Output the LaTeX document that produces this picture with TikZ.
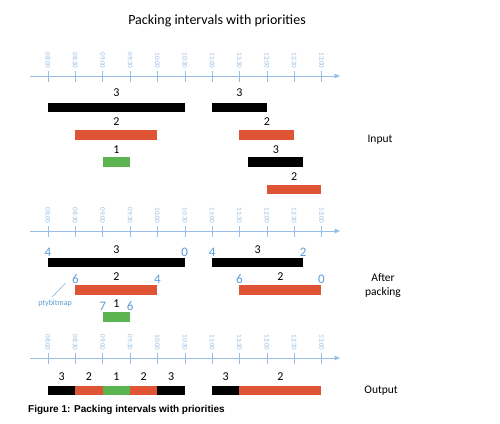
\documentclass[tikz,border=0pt]{standalone}
\usepackage{fontspec}
\setmainfont{Carlito}
\newfontfamily\capfont{Liberation Sans}
\usetikzlibrary{arrows.meta, positioning}
\definecolor{axisblue}{RGB}{150,190,230}
\definecolor{bitblue}{RGB}{91,155,213}
\definecolor{barred}{RGB}{222,84,52}
\definecolor{bargreen}{RGB}{92,180,80}

\begin{document}
\begin{tikzpicture}[x=27.35pt, y=-1pt,
    prio/.style={font=\fontsize{12}{13}\selectfont},
    bit/.style={font=\fontsize{13}{14}\selectfont, text=bitblue},
    ticklabel/.style={font=\fontsize{7}{8}\selectfont, text=axisblue, rotate=-90, inner sep=0pt},
    side/.style={font=\fontsize{11.5}{14}\selectfont, align=center},
    bar3/.style={fill=black},
    bar2/.style={fill=barred},
    bar1/.style={fill=bargreen}]
    \useasboundingbox (-1.755,0) rectangle (16.527,424);
    \node (title) at (6.18,21) {\fontsize{14}{16}\selectfont Packing intervals with priorities};
    % time axes
    \foreach \ay/\nm in {76/in, 231/pk, 358/out} {
        \draw[axisblue, thick, -{Latex[length=6pt, width=5pt]}] (-0.66,\ay) -- (10.7,\ay);
        \foreach \i/\t in {0/08:00,1/08:30,2/09:00,3/09:30,4/10:00,5/10:30,6/11:00,7/11:30,8/12:00,9/12:30,10/13:00} {
            \draw[axisblue] (\i,\ay-5) -- (\i,\ay+6);
            \node[ticklabel] (t\nm\i) at (\i,\ay-15.5) {\t};
        }
    }
    % Input
    \fill[bar3] (0,103) rectangle (5,112);
    \fill[bar3] (6,103) rectangle (8,112);
    \fill[bar2] (1,130) rectangle (4,140);
    \fill[bar2] (7,130) rectangle (9,140);
    \fill[bar1] (2,157) rectangle (3,167);
    \fill[bar3] (7.33,157) rectangle (9.33,167);
    \fill[bar2] (8,185) rectangle (10,194);
    \node[prio] (ia) at (2.5,93) {3};
    \node[prio] (ib) at (7,93) {3};
    \node[prio] (ic) at (2.5,122) {2};
    \node[prio] (id) at (8,122) {2};
    \node[prio] (ie) at (2.5,150) {1};
    \node[prio] (if) at (8.33,150) {3};
    \node[prio] (ig) at (9,177) {2};
    \node[side] (input) at (12.14,140) {Input};
    % After packing
    \fill[bar3] (0,258) rectangle (5,267);
    \fill[bar3] (6,258) rectangle (9.33,267);
    \fill[bar2] (1,285) rectangle (4,295);
    \fill[bar2] (7,285) rectangle (10,295);
    \fill[bar1] (2,312) rectangle (3,322);
    \node[prio] (pa) at (2.5,250) {3};
    \node[prio] (pb) at (7.67,250) {3};
    \node[prio] (pc) at (2.5,277) {2};
    \node[prio] (pd) at (8.5,277) {2};
    \node[prio] (pe) at (2.5,304) {1};
    \node[bit] (b4a) at (0,252) {4};
    \node[bit] (b0a) at (5,252) {0};
    \node[bit] (b4b) at (6,252) {4};
    \node[bit] (b2b) at (9.33,252) {2};
    \node[bit] (b6a) at (1,279) {6};
    \node[bit] (b4c) at (4,279) {4};
    \node[bit] (b6b) at (7,279) {6};
    \node[bit] (b0b) at (10,279) {0};
    \node[bit] (b7) at (2,306) {7};
    \node[bit] (b6c) at (3,306) {6};
    \node[font=\fontsize{8}{9}\selectfont, text=bitblue] (pty) at (0.26,303) {ptybitmap};
    \draw[bitblue, thin] ([xshift=-3pt,yshift=-1pt]pty.north) -- ([xshift=-3pt,yshift=4pt]b6a.south west);
    \node[side] (packing) at (12.25,285.5) {After\\packing};
    % Output
    \fill[bar3] (0,386) rectangle (1,395);
    \fill[bar2] (1,386) rectangle (2,395);
    \fill[bar1] (2,386) rectangle (3,395);
    \fill[bar2] (3,386) rectangle (4,395);
    \fill[bar3] (4,386) rectangle (5,395);
    \fill[bar3] (6,386) rectangle (7,395);
    \fill[bar2] (7,386) rectangle (10,395);
    \foreach \x/\p [count=\k] in {0.5/3,1.5/2,2.5/1,3.5/2,4.5/3,6.5/3,8.5/2} {
        \node[prio] (o\k) at (\x,377) {\p};
    }
    \node[side] (output) at (12.18,391) {Output};
    \node[anchor=west, inner sep=0pt, font=\capfont\bfseries\fontsize{10}{12}\selectfont] (caption) at (-0.73,410) {Figure 1: Packing intervals with priorities};
\end{tikzpicture}
\end{document}
